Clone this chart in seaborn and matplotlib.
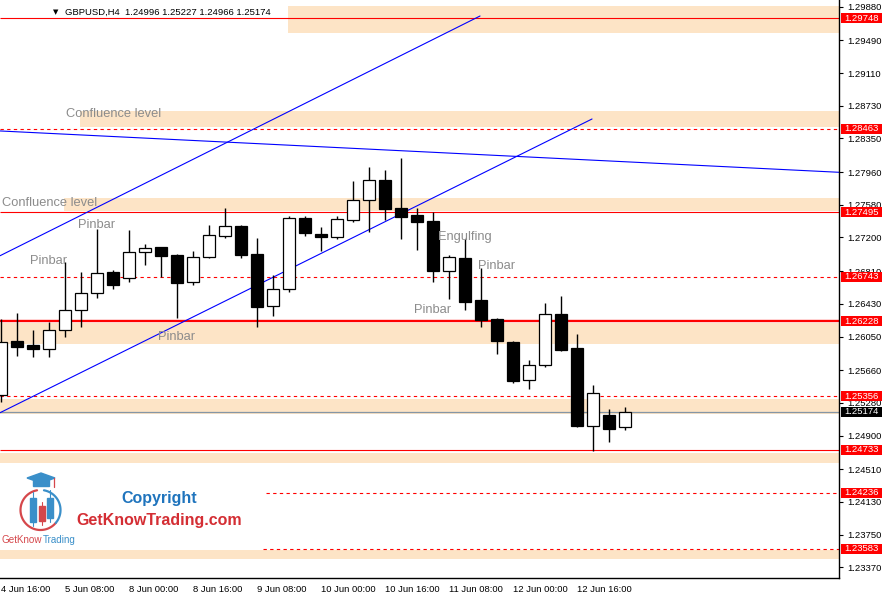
import numpy as np
import pandas as pd
import seaborn as sns
import matplotlib.pyplot as plt
from matplotlib.patches import Rectangle, Polygon
from matplotlib.transforms import blended_transform_factory

# GBPUSD H4 candles, 4 Jun 16:00 -> 12 Jun 16:00
opens = [1.25371, 1.25998, 1.25951, 1.25908, 1.26122, 1.26358, 1.26552, 1.26799, 1.26726, 1.27028,
         1.27086, 1.26996, 1.26679, 1.26970, 1.27214, 1.27333, 1.27008, 1.26401, 1.26598, 1.27426,
         1.27240, 1.27209, 1.27406, 1.27632, 1.27867, 1.27542, 1.27461, 1.27391, 1.26807, 1.26958,
         1.26470, 1.26253, 1.25986, 1.25541, 1.25716, 1.26311, 1.25916, 1.25014, 1.25138, 1.24996]
highs = [1.26253, 1.26319, 1.26126, 1.26215, 1.26915, 1.26803, 1.27295, 1.26822, 1.27287, 1.27124,
         1.27089, 1.27008, 1.27043, 1.27345, 1.27546, 1.27341, 1.27197, 1.26761, 1.27449, 1.27449,
         1.27325, 1.27453, 1.27856, 1.28022, 1.27984, 1.28126, 1.27539, 1.27492, 1.26993, 1.27179,
         1.26842, 1.26261, 1.25994, 1.25777, 1.26439, 1.26520, 1.26079, 1.25487, 1.25208, 1.25227]
lows = [1.25289, 1.25824, 1.25815, 1.25815, 1.26048, 1.26164, 1.26501, 1.26598, 1.26686, 1.26884,
        1.26741, 1.26268, 1.26648, 1.26958, 1.27197, 1.26965, 1.26164, 1.26292, 1.26570, 1.27221,
        1.27043, 1.27186, 1.27383, 1.27267, 1.27403, 1.27182, 1.27055, 1.26686, 1.26489, 1.26358,
        1.26164, 1.25850, 1.25507, 1.25437, 1.25692, 1.25882, 1.25003, 1.24724, 1.24828, 1.24966]
closes = [1.25986, 1.25932, 1.25908, 1.26122, 1.26358, 1.26552, 1.26784, 1.26652, 1.27028, 1.27081,
          1.26988, 1.26675, 1.26970, 1.27229, 1.27330, 1.26996, 1.26396, 1.26598, 1.27423, 1.27255,
          1.27209, 1.27411, 1.27632, 1.27864, 1.27534, 1.27441, 1.27383, 1.26814, 1.26970, 1.26454,
          1.26242, 1.26001, 1.25537, 1.25716, 1.26311, 1.25897, 1.25014, 1.25390, 1.24979, 1.25174]

x_tick_idx = [0, 4, 8, 12, 16, 20, 24, 28, 32, 36]
x_tick_labels = ["4 Jun 16:00", "5 Jun 08:00", "8 Jun 00:00", "8 Jun 16:00", "9 Jun 08:00",
                 "10 Jun 00:00", "10 Jun 16:00", "11 Jun 08:00", "12 Jun 00:00", "12 Jun 16:00"]
price_ticks = [1.29880, 1.29490, 1.29110, 1.28730, 1.28350, 1.27960, 1.27580, 1.27200, 1.26810,
               1.26430, 1.26050, 1.25660, 1.25280, 1.24900, 1.24510, 1.24130, 1.23750, 1.23370]

# support / resistance levels
level_values = [1.29748, 1.28463, 1.27495, 1.26743, 1.26228, 1.25356, 1.24733, 1.24236, 1.23583]
level_dashed = [False, True, False, True, False, True, False, True, True]
level_thick = [False, False, False, False, True, False, False, False, False]
level_start = [None, None, None, None, None, None, None, 16.56, 16.38]

# shaded zones
zone_low = [1.29571, 1.28486, 1.27507, 1.25959, 1.25150, 1.24585, 1.23466]
zone_high = [1.29888, 1.28669, 1.27658, 1.26203, 1.25324, 1.24701, 1.23571]
zone_start = [17.94, 4.94, 3.94, None, None, None, None]

last_price = 1.25174

# trend lines (candle index, price)
upper_x, upper_y = [-0.06, 29.94], [1.26988, 1.29772]
lower_x, lower_y = [-0.06, 36.94], [1.25165, 1.28576]
flat_x, flat_y = [-0.06, 52.375], [1.28437, 1.27957]

notes_text = ["Confluence level", "Confluence level", "Pinbar", "Pinbar", "Pinbar",
              "Engulfing", "Pinbar", "Pinbar"]
notes_x = [4.06, 0.06, 1.81, 4.81, 9.81, 27.31, 29.81, 25.81]
notes_y = [1.28634, 1.27600, 1.26927, 1.27345, 1.26044, 1.27206, 1.26869, 1.26358]

sns.set_theme(style="white")
plt.rcParams['font.family'] = ['Liberation Sans', 'DejaVu Sans']

W, H = 886, 597
fig = plt.figure(figsize=(W / 100, H / 100), dpi=100)
ax = fig.add_axes([0, 19 / H, 839 / W, 578 / H])

x0, x1 = -0.0625, 52.375
y0, y1 = 1.232455, 1.299578
ax.set_xlim(x0, x1)
ax.set_ylim(y0, y1)

zone_color = '#fde4c6'
for lo, hi, st in zip(zone_low, zone_high, zone_start):
    st = x0 if st is None else st
    ax.fill_between([st, x1], lo, hi, color=zone_color, lw=0, zorder=0.5)

for val, dashed, thick, st in zip(level_values, level_dashed, level_thick, level_start):
    st = x0 if st is None else st
    ax.hlines(val, st, x1, colors='#ff0000', lw=1.7 if thick else 0.8,
              linestyles=(0, (3, 3)) if dashed else 'solid', zorder=1)

ax.axhline(last_price, color='#8596a6', lw=0.9, zorder=1)

trend = pd.DataFrame({
    'x': upper_x + lower_x + flat_x,
    'y': upper_y + lower_y + flat_y,
    'line': ['upper'] * 2 + ['lower'] * 2 + ['flat'] * 2,
})
sns.lineplot(data=trend, x='x', y='y', units='line', estimator=None, color='#0000ff',
             lw=0.8, legend=False, ax=ax, zorder=1.5)

# candles
idx = np.arange(len(opens))
o = np.array(opens)
c = np.array(closes)
up = c >= o
ax.vlines(idx, lows, highs, color='black', lw=1.0, zorder=2.9)
ax.bar(idx, np.abs(c - o), bottom=np.minimum(o, c), width=0.69,
       color=np.where(up, 'white', 'black'), edgecolor='black', linewidth=0.9, zorder=3)

for t, nx, ny in zip(notes_text, notes_x, notes_y):
    ax.text(nx, ny, t, color='#8c8c8c', fontsize=9.3, ha='left', va='center', zorder=4)

# axes styling
ax.set_xlabel('')
ax.set_ylabel('')
for side in ['left', 'top']:
    ax.spines[side].set_visible(False)
for side in ['right', 'bottom']:
    ax.spines[side].set_color('black')
    ax.spines[side].set_linewidth(1.0)
ax.yaxis.tick_right()
ax.set_yticks(price_ticks)
ax.set_yticklabels([f"{p:.5f}" for p in price_ticks])
ax.set_xticks(x_tick_idx)
ax.set_xticklabels(x_tick_labels, ha='left')
ax.tick_params(axis='both', direction='out', length=3, width=0.8, color='black',
               labelsize=6.8, labelcolor='black')
ax.tick_params(axis='y', pad=3)
ax.tick_params(axis='x', pad=2)
ax.grid(False)

# price boxes on the right scale
bt = blended_transform_factory(ax.transAxes, ax.transData)
box_h = 0.00118
for val, fc in [(v, '#ff0000') for v in level_values] + [(last_price, 'black')]:
    ax.add_patch(Rectangle((1 + 1.7 / 839, val - box_h / 2), 41 / 839, box_h,
                           transform=bt, facecolor=fc, edgecolor='none',
                           clip_on=False, zorder=6))
    ax.text(1 + 5 / 839, val, f"{val:.5f}", transform=bt, color='white', fontsize=6.8,
            ha='left', va='center', clip_on=False, zorder=7)

# header
fig.text(53 / W, 1 - 12 / H, "\u25bc", fontsize=5, family='DejaVu Sans', color='black',
         ha='left', va='center')
fig.text(65 / W, 1 - 12 / H, "GBPUSD,H4  1.24996 1.25227 1.24966 1.25174",
         fontsize=6.8, color='black', ha='left', va='center')

# watermark
fig.text(159.5 / W, 1 - 499 / H, "Copyright", fontsize=11.5, fontweight='bold',
         color='#1f74bd', ha='center', va='center')
fig.text(159.5 / W, 1 - 521 / H, "GetKnowTrading.com", fontsize=11.5, fontweight='bold',
         color='#d42e34', ha='center', va='center')

lg = fig.add_axes([0, (H - 548) / H, 80 / W, 80 / H])
lg.set_xlim(0, 80)
lg.set_ylim(548, 468)
lg.set_axis_off()
t = np.radians(np.linspace(100, 320, 60))
lg.plot(40.5 + 20 * np.cos(t), 510 - 20 * np.sin(t), color='#d5474b', lw=1.6)
t = np.radians(np.linspace(-40, 80, 40))
lg.plot(40.5 + 20 * np.cos(t), 510 - 20 * np.sin(t), color='#3a8fc9', lw=1.6)
for cx, top, bot, wt, wb, col in [(33, 498, 522, 492, 526, '#3a8fc9'),
                                  (42, 506, 521, 502, 525, '#d5474b'),
                                  (50, 498, 518, 490, 522, '#3a8fc9')]:
    lg.plot([cx, cx], [wt, wb], color=col, lw=0.8)
    lg.add_patch(Rectangle((cx - 3, top), 6, bot - top, color=col))
lg.add_patch(Polygon([(27, 478), (41, 473), (55, 478), (41, 483)], color='#3a8fc9'))
lg.add_patch(Polygon([(33, 480), (49, 480), (49, 486), (33, 486)], color='#3a8fc9'))
lg.plot([54, 54], [478, 487], color='#d5474b', lw=0.9)
lg.text(2, 540, "GetKnow", color='#d5474b', fontsize=7.1, ha='left', va='center')
lg.text(42.6, 540, "Trading", color='#3a8fc9', fontsize=7.1, ha='left', va='center')

fig.savefig('out.png', dpi=100)
